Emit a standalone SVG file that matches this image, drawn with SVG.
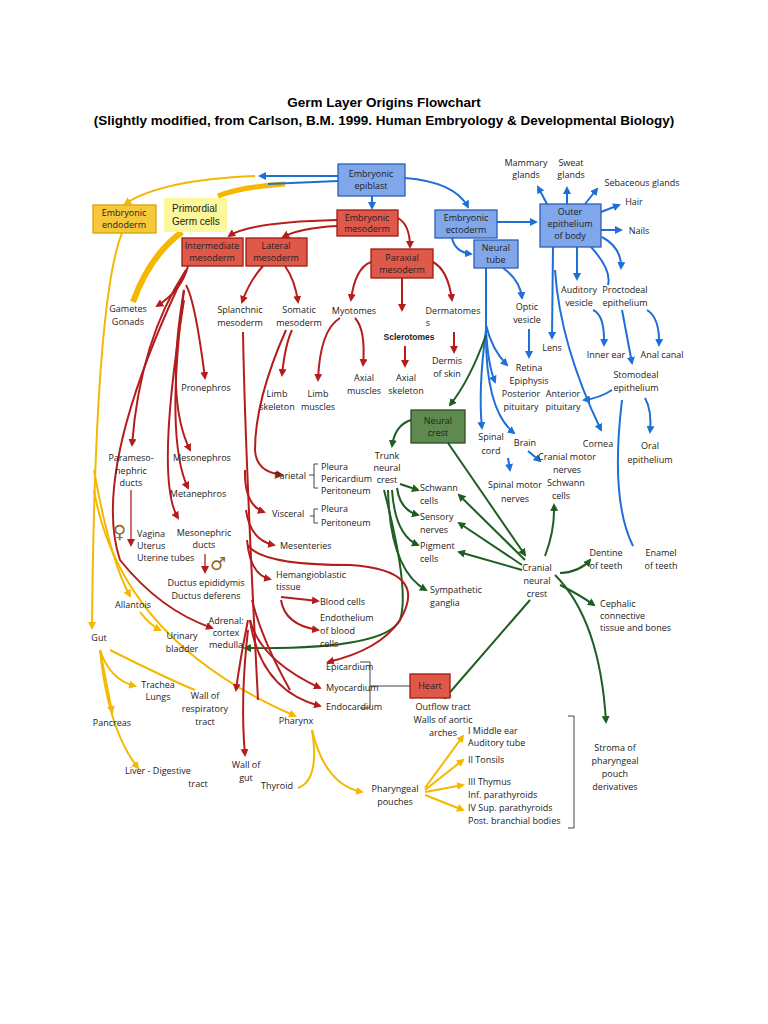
<svg xmlns="http://www.w3.org/2000/svg" width="768" height="1024" viewBox="0 0 768 1024">
<style>
text{font-family:"Open Sans","Liberation Sans",sans-serif;font-size:9px;fill:#222}
.t{font-family:"Liberation Sans",Arial,sans-serif;font-weight:bold;font-size:13.5px;fill:#000}
.c{text-anchor:middle}
.b path{fill:none;stroke:#1e6fd6;stroke-width:2;marker-end:url(#mb)}
.r path{fill:none;stroke:#b51d1d;stroke-width:2;marker-end:url(#mr)}
.g path{fill:none;stroke:#1f5e22;stroke-width:2;marker-end:url(#mg)}
.y path{fill:none;stroke:#f5b800;stroke-width:2;marker-end:url(#my)}
.k path{fill:none;stroke:#444;stroke-width:1}
.bx{stroke-width:1.3}
.blue{fill:#7fa7ea;stroke:#2b5fb8}
.red{fill:#e0584a;stroke:#9e1b12}
.grn{fill:#5d8a4e;stroke:#2b4d22}
</style>
<defs>
<marker id="mb" markerWidth="8" markerHeight="8" refX="6" refY="4" orient="auto" markerUnits="userSpaceOnUse"><path d="M0,0L8,4L0,8z" fill="#1e6fd6"/></marker>
<marker id="mr" markerWidth="8" markerHeight="8" refX="6" refY="4" orient="auto" markerUnits="userSpaceOnUse"><path d="M0,0L8,4L0,8z" fill="#b51d1d"/></marker>
<marker id="mg" markerWidth="8" markerHeight="8" refX="6" refY="4" orient="auto" markerUnits="userSpaceOnUse"><path d="M0,0L8,4L0,8z" fill="#1f5e22"/></marker>
<marker id="my" markerWidth="8" markerHeight="8" refX="6" refY="4" orient="auto" markerUnits="userSpaceOnUse"><path d="M0,0L8,4L0,8z" fill="#f5b800"/></marker>
</defs>
<rect width="768" height="1024" fill="#fff"/>
<text class="t c" x="384" y="107">Germ Layer Origins Flowchart</text>
<text class="t c" x="384" y="125">(Slightly modified, from Carlson, B.M.  1999.  Human Embryology &amp; Developmental Biology)</text>

<g id="connectors">
<g class="y">
<path d="M255,176 Q160,180 125,204"/>
<path d="M122,233 Q95,300 92,628"/>
<path d="M285,184 Q240,187 218,196" style="stroke-width:5;marker-end:none"/>
<path d="M182,232 Q150,255 133,302" style="stroke-width:6;marker-end:none"/>
<path d="M94,470 Q110,560 130,596"/>
<path d="M140,612 Q150,625 160,630"/>
<path d="M94,490 Q120,640 295,716"/>
<path d="M100,650 Q110,680 135,686"/>
<path d="M100,650 L112,712"/>
<path d="M100,650 Q108,730 138,768"/>
<path d="M110,650 Q170,680 195,690" style="marker-end:none"/>
<path d="M312,730 Q325,785 362,792"/>
<path d="M312,730 Q320,780 298,788" style="marker-end:none"/>
<path d="M425,788 L463,736"/>
<path d="M425,790 L463,760"/>
<path d="M425,792 L463,785"/>
<path d="M425,795 L463,810"/>
</g>
<g class="b">
<path d="M338,176 L260,176"/>
<path d="M338,181 L268,184" style="marker-end:none"/>
<path d="M372,196 L372,208"/>
<path d="M405,178 Q455,182 468,207"/>
<path d="M497,222 L536,222"/>
<path d="M452,238 Q455,252 471,254"/>
<path d="M547,204 L538,187"/>
<path d="M567,204 L567,188"/>
<path d="M585,204 L597,189"/>
<path d="M601,212 L619,205"/>
<path d="M601,230 L621,230"/>
<path d="M577,247 L577,279"/>
<path d="M591,247 Q612,270 608,285" style="marker-end:none"/>
<path d="M602,237 Q622,248 621,268"/>
<path d="M553,247 L552,338"/>
<path d="M555,270 Q560,345 601,430"/>
<path d="M593,310 Q605,315 604,345"/>
<path d="M647,310 Q660,318 659,345"/>
<path d="M622,310 L632,363"/>
<path d="M612,390 Q600,398 584,400"/>
<path d="M645,398 Q652,410 650,432"/>
<path d="M622,400 Q610,500 633,546" style="marker-end:none"/>
<path d="M503,268 Q520,280 522,298"/>
<path d="M529,329 L529,357"/>
<path d="M486,268 L486,330" style="marker-end:none"/>
<path d="M486,325 Q492,350 507,365"/>
<path d="M486,330 Q488,365 495,382"/>
<path d="M486,330 Q478,390 482,428"/>
<path d="M486,330 Q485,410 514,433"/>
<path d="M528,451 L540,461"/>
<path d="M508,458 L510,470"/>
</g>
<g class="g">
<path d="M486,335 Q470,380 450,405"/>
<path d="M411,420 Q395,425 392,446"/>
<path d="M448,443 L525,555"/>
<path d="M400,484 L418,490"/>
<path d="M397,488 Q400,510 418,515"/>
<path d="M392,490 Q395,535 418,545"/>
<path d="M388,490 Q390,570 426,590"/>
<path d="M384,490 Q410,590 400,620 Q385,650 245,648"/>
<path d="M525,560 L459,495"/>
<path d="M522,565 L459,523"/>
<path d="M522,570 L459,552"/>
<path d="M545,556 Q555,530 554,505"/>
<path d="M560,573 Q580,572 590,560"/>
<path d="M560,585 Q580,595 594,605"/>
<path d="M530,600 L445,698"/>
<path d="M555,575 Q600,620 606,722"/>
</g>
<g class="r">
<path d="M337,220 Q250,222 229,236"/>
<path d="M337,226 Q300,228 283,237"/>
<path d="M398,218 Q410,225 410,247"/>
<path d="M188,266 Q182,290 157,306"/>
<path d="M186,285 Q195,300 205,378"/>
<path d="M186,270 Q140,340 132,445"/>
<path d="M184,290 Q165,400 190,450"/>
<path d="M184,290 Q165,440 188,488"/>
<path d="M184,300 Q155,480 178,518"/>
<path d="M186,270 Q90,470 120,560 Q160,610 212,628"/>
<path d="M131,490 L131,545" style="stroke-width:1.3"/>
<path d="M205,554 L205,572" style="stroke-width:1.3"/>
<path d="M263,266 Q250,280 242,302"/>
<path d="M285,266 Q295,280 298,302"/>
<path d="M243,332 Q245,450 258,700" style="marker-end:none"/>
<path d="M245,470 Q244,505 264,512"/>
<path d="M246,510 Q250,540 274,545"/>
<path d="M247,540 Q250,575 270,579"/>
<path d="M248,545 Q260,565 350,565 Q430,570 400,620 Q380,650 328,662"/>
<path d="M250,620 Q260,660 320,688"/>
<path d="M250,620 Q260,690 320,706"/>
<path d="M248,620 Q240,660 236,690"/>
<path d="M248,630 Q240,700 245,755"/>
<path d="M252,600 Q262,640 290,690" style="marker-end:none"/>
<path d="M292,330 Q285,345 282,375"/>
<path d="M286,330 Q255,400 255,450 Q256,472 282,475"/>
<path d="M371,262 Q355,268 351,300"/>
<path d="M402,278 L402,310"/>
<path d="M433,262 Q448,270 452,300"/>
<path d="M340,318 Q320,330 318,380"/>
<path d="M355,318 Q366,330 363,365"/>
<path d="M405,346 L405,366"/>
<path d="M454,332 L454,352"/>
<path d="M281,597 L318,601"/>
<path d="M281,600 Q285,625 318,630"/>
</g>
<g class="k">
<path d="M309,475 L314,475 M318,464 L314,464 L314,488 L318,488"/>
<path d="M310,516 L314,516 M318,509 L314,509 L314,523 L318,523"/>
<path d="M360,662 L370,662 L370,708 L360,708 M370,686 L410,686"/>
<path d="M568,716 L574,716 L574,828 L568,828"/>
</g>
</g>

<g id="epiblast"><rect class="bx blue" x="338" y="164" width="67" height="32"/><text class="c" x="371" y="177">Embryonic</text><text class="c" x="371" y="189">epiblast</text></g>
<g id="endoderm"><rect class="bx" x="93" y="205" width="63" height="28" fill="#f6c83c" stroke="#d9a300"/><text class="c" x="124" y="216">Embryonic</text><text class="c" x="124" y="228">endoderm</text></g>
<g id="pgc"><rect x="164" y="198" width="63" height="34" fill="#fbf79a"/><text x="172" y="212" style="font-family:'Liberation Sans',sans-serif;font-size:10px">Primordial</text><text x="172" y="225" style="font-family:'Liberation Sans',sans-serif;font-size:10px">Germ cells</text></g>
<g id="mesoderm"><rect class="bx red" x="337" y="210" width="61" height="26"/><text class="c" x="367" y="221">Embryonic</text><text class="c" x="367" y="232">mesoderm</text></g>
<g id="intermediate"><rect class="bx red" x="182" y="238" width="61" height="28"/><text class="c" x="212" y="249">Intermediate</text><text class="c" x="212" y="261">mesoderm</text></g>
<g id="lateral"><rect class="bx red" x="246" y="238" width="61" height="28"/><text class="c" x="276" y="249">Lateral</text><text class="c" x="276" y="261">mesoderm</text></g>
<g id="paraxial"><rect class="bx red" x="371" y="249" width="62" height="29"/><text class="c" x="402" y="261">Paraxial</text><text class="c" x="402" y="273">mesoderm</text></g>
<g id="ectoderm"><rect class="bx blue" x="435" y="210" width="62" height="28"/><text class="c" x="466" y="221">Embryonic</text><text class="c" x="466" y="233">ectoderm</text></g>
<g id="neuraltube"><rect class="bx blue" x="474" y="240" width="44" height="28"/><text class="c" x="496" y="251">Neural</text><text class="c" x="496" y="263">tube</text></g>
<g id="outer"><rect class="bx blue" x="540" y="204" width="61" height="43"/><text class="c" x="570" y="215">Outer</text><text class="c" x="570" y="227">epithelium</text><text class="c" x="570" y="239">of body</text></g>
<g id="neuralcrest"><rect class="bx grn" x="411" y="410" width="54" height="33"/><text class="c" x="438" y="424">Neural</text><text class="c" x="438" y="436">crest</text></g>
<g id="heart"><rect class="bx red" x="410" y="674" width="40" height="24"/><text class="c" x="430" y="689">Heart</text></g>

<g id="labels">
<text class="c" x="526" y="166">Mammary</text><text class="c" x="526" y="178">glands</text>
<text class="c" x="571" y="166">Sweat</text><text class="c" x="571" y="178">glands</text>
<text class="c" x="642" y="186">Sebaceous glands</text>
<text class="c" x="634" y="205">Hair</text>
<text class="c" x="639" y="234">Nails</text>
<text class="c" x="128" y="312">Gametes</text><text class="c" x="128" y="325">Gonads</text>
<text class="c" x="240" y="313">Splanchnic</text><text class="c" x="240" y="326">mesoderm</text>
<text class="c" x="299" y="313">Somatic</text><text class="c" x="299" y="326">mesoderm</text>
<text class="c" x="354" y="314">Myotomes</text>
<text class="c" x="453" y="314">Dermatomes</text><text class="c" x="428" y="326">s</text>
<text class="c" x="409" y="340" style="font-family:'Liberation Sans',sans-serif;font-size:8.5px;font-weight:bold">Sclerotomes</text>
<text class="c" x="579" y="293">Auditory</text><text class="c" x="579" y="306">vesicle</text>
<text class="c" x="625" y="293">Proctodeal</text><text class="c" x="625" y="306">epithelium</text>
<text class="c" x="527" y="310">Optic</text><text class="c" x="527" y="323">vesicle</text>
<text class="c" x="552" y="351">Lens</text>
<text class="c" x="606" y="358">Inner ear</text>
<text class="c" x="662" y="358">Anal canal</text>
<text class="c" x="636" y="378">Stomodeal</text><text class="c" x="636" y="391">epithelium</text>
<text class="c" x="529" y="371">Retina</text><text class="c" x="529" y="384">Epiphysis</text>
<text class="c" x="521" y="397">Posterior</text><text class="c" x="521" y="410">pituitary</text>
<text class="c" x="563" y="397">Anterior</text><text class="c" x="563" y="410">pituitary</text>
<text class="c" x="447" y="364">Dermis</text><text class="c" x="447" y="377">of skin</text>
<text class="c" x="364" y="381">Axial</text><text class="c" x="364" y="394">muscles</text>
<text class="c" x="406" y="381">Axial</text><text class="c" x="406" y="394">skeleton</text>
<text class="c" x="277" y="397">Limb</text><text class="c" x="277" y="410">skeleton</text>
<text class="c" x="318" y="397">Limb</text><text class="c" x="318" y="410">muscles</text>
<text class="c" x="206" y="391">Pronephros</text>
<text class="c" x="491" y="440">Spinal</text><text class="c" x="491" y="454">cord</text>
<text class="c" x="525" y="446">Brain</text>
<text class="c" x="567" y="460">Cranial motor</text><text class="c" x="567" y="473">nerves</text>
<text class="c" x="598" y="447">Cornea</text>
<text class="c" x="650" y="449">Oral</text><text class="c" x="650" y="463">epithelium</text>
<text class="c" x="566" y="486">Schwann</text><text class="c" x="561" y="499">cells</text>
<text class="c" x="515" y="488">Spinal motor</text><text class="c" x="515" y="502">nerves</text>
<text class="c" x="131" y="461">Parameso-</text><text class="c" x="131" y="474">nephric</text><text class="c" x="131" y="486">ducts</text>
<text class="c" x="202" y="461">Mesonephros</text>
<text class="c" x="198" y="497">Metanephros</text>
<text x="274" y="479">Parietal</text>
<text x="321" y="470">Pleura</text><text x="321" y="482">Pericardium</text><text x="321" y="494">Peritoneum</text>
<text class="c" x="387" y="459">Trunk</text><text class="c" x="387" y="471">neural</text><text class="c" x="387" y="483">crest</text>
<text x="420" y="491">Schwann</text><text x="420" y="504">cells</text>
<text x="420" y="520">Sensory</text><text x="420" y="533">nerves</text>
<text x="420" y="549">Pigment</text><text x="420" y="562">cells</text>
<text x="272" y="517">Visceral</text>
<text x="321" y="512">Pleura</text><text x="321" y="526">Peritoneum</text>
<text x="280" y="549">Mesenteries</text>
<text style="font-family:'DejaVu Sans',sans-serif;font-size:18px;fill:#8a6d1a" x="113" y="538">♀</text>
<text x="137" y="537">Vagina</text><text x="137" y="549">Uterus</text><text x="137" y="561">Uterine tubes</text>
<text class="c" x="204" y="536">Mesonephric</text><text class="c" x="204" y="548">ducts</text>
<text style="font-family:'DejaVu Sans',sans-serif;font-size:18px;fill:#8a6d1a" x="210" y="570">♂</text>
<text class="c" x="206" y="586">Ductus epididymis</text><text class="c" x="206" y="599">Ductus deferens</text>
<text x="276" y="578">Hemangioblastic</text><text x="276" y="590">tissue</text>
<text x="430" y="593">Sympathetic</text><text x="430" y="606">ganglia</text>
<text class="c" x="537" y="571">Cranial</text><text class="c" x="537" y="584">neural</text><text class="c" x="537" y="597">crest</text>
<text class="c" x="606" y="556">Dentine</text><text class="c" x="606" y="569">of teeth</text>
<text class="c" x="661" y="556">Enamel</text><text class="c" x="661" y="569">of teeth</text>
<text x="600" y="607">Cephalic</text><text x="600" y="619">connective</text><text x="600" y="631">tissue and bones</text>
<text x="320" y="605">Blood cells</text>
<text x="320" y="621">Endothelium</text><text x="320" y="634">of blood</text><text x="320" y="647">cells</text>
<text class="c" x="133" y="608">Allantois</text>
<text class="c" x="226" y="624">Adrenal:</text><text class="c" x="226" y="636">cortex</text><text class="c" x="226" y="648">medulla</text>
<text class="c" x="182" y="639">Urinary</text><text class="c" x="182" y="652">bladder</text>
<text class="c" x="99" y="641">Gut</text>
<text class="c" x="158" y="688">Trachea</text><text class="c" x="158" y="700">Lungs</text>
<text class="c" x="205" y="699">Wall of</text><text class="c" x="205" y="712">respiratory</text><text class="c" x="205" y="725">tract</text>
<text x="326" y="670">Epicardium</text>
<text x="326" y="691">Myocardium</text>
<text x="326" y="710">Endocardium</text>
<text class="c" x="443" y="710">Outflow tract</text><text class="c" x="443" y="723">Walls of aortic</text><text class="c" x="443" y="736">arches</text>
<text class="c" x="296" y="724">Pharynx</text>
<text class="c" x="112" y="726">Pancreas</text>
<text x="468" y="734">I Middle ear</text><text x="468" y="746">Auditory tube</text>
<text x="468" y="763">II Tonsils</text>
<text x="468" y="785">III Thymus</text><text x="468" y="798">Inf. parathyroids</text>
<text x="468" y="811">IV Sup. parathyroids</text><text x="468" y="824">Post. branchial bodies</text>
<text class="c" x="615" y="751">Stroma of</text><text class="c" x="615" y="764">pharyngeal</text><text class="c" x="615" y="777">pouch</text><text class="c" x="615" y="790">derivatives</text>
<text class="c" x="246" y="768">Wall of</text><text class="c" x="246" y="781">gut</text>
<text class="c" x="158" y="774">Liver  -  Digestive</text><text class="c" x="198" y="787">tract</text>
<text class="c" x="277" y="789">Thyroid</text>
<text class="c" x="395" y="792">Pharyngeal</text><text class="c" x="395" y="805">pouches</text>
</g>
</svg>
